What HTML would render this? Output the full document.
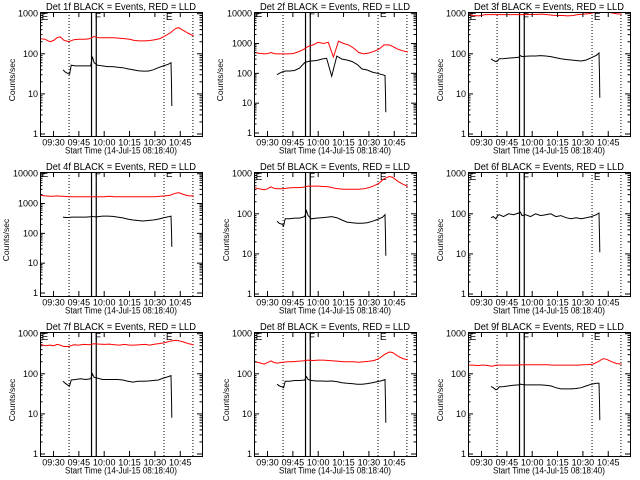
<!DOCTYPE html>
<html><head><meta charset="utf-8"><style>
html,body{margin:0;padding:0;background:#fff;}
svg{display:block;font-family:"Liberation Sans",sans-serif;}
</style></head><body>
<svg id="chart" width="640" height="480" viewBox="0 0 640 480" xmlns="http://www.w3.org/2000/svg">
<rect width="640" height="480" fill="#fff"/>
</svg>
<script>
// ---- data ----
const detNames = ["1f","2f","3f","4f","5f","6f","7f","8f","9f"];
const decades = [3,4,3,4,3,3,3,3,3];
const redT = [-8,-5,-2,0,2,4,6,9,12,15,18,21,24,27,30,33,36,39,42,45,48,51,54,57,60,63,66,69,72,74,77,80,83];
const blackT = [5.6,7,8.5,9.5,10.5,13,16,19,22,23,24,26,29,32,35,38,41,44,47,50,53,56,59,62,65,68,69.5,69.8,70];
const red1 = [240,230,200,215,250,265,220,200,225,230,230,235,270,250,250,250,250,245,240,230,215,210,210,215,225,240,280,330,420,450,380,320,280];
const black1 = [40,35,32,31,52,50,50,50,50,85,60,52,50,48,48,46,45,42,40,38,37,37,40,45,50,55,60,18,5];
const red2 = [500,470,450,460,500,460,450,450,450,460,520,620,800,900,1100,1000,1100,350,1200,1000,900,700,500,450,480,550,650,900,900,800,650,570,520];
const black2 = [90,100,110,115,120,120,125,150,230,240,250,260,270,300,320,80,380,300,280,250,200,140,130,110,100,90,85,20,5];
const red3 = [950,900,880,900,950,950,950,950,950,950,950,950,950,950,960,960,980,950,920,900,900,880,900,950,980,1000,1050,1100,1150,1100,1050,1000,980];
const black3 = [75,68,64,66,75,76,78,80,82,90,85,87,88,88,90,88,85,80,75,72,70,68,66,70,80,92,105,30,8];
const red4 = [1900,1800,1750,1750,1800,1750,1750,1700,1700,1700,1700,1700,1700,1700,1700,1750,1700,1700,1700,1700,1700,1700,1700,1700,1700,1750,1800,1900,2200,2300,2000,1800,1800];
const black4 = [350,340,340,340,350,350,350,350,360,370,360,360,380,380,370,350,330,300,280,270,260,270,280,300,330,360,380,120,35];
const red5 = [450,420,400,420,470,430,420,420,440,450,450,460,490,490,490,480,470,440,420,410,410,410,410,420,450,500,580,750,850,820,650,550,480];
const black5 = [65,58,55,50,75,75,78,78,85,120,90,75,78,80,82,85,80,70,62,60,58,58,60,65,72,82,95,28,9];
const red6 = [];
const black6 = [80,85,75,90,95,85,100,95,105,110,90,95,85,100,90,95,100,85,90,80,75,80,75,80,85,95,105,30,11];
const red7 = [550,500,520,500,540,520,480,480,530,520,540,530,560,550,540,550,530,520,540,520,520,530,540,520,550,570,600,650,680,670,620,560,530];
const black7 = [65,58,52,50,70,72,75,72,75,100,82,78,72,72,72,72,70,65,62,65,65,66,68,70,78,85,90,25,8];
const red8 = [200,190,175,190,210,190,185,195,200,200,205,210,220,215,220,220,215,210,205,200,200,200,195,200,205,215,240,300,350,340,280,240,225];
const black8 = [55,50,47,45,65,65,68,68,70,85,72,68,66,66,65,66,64,60,58,57,55,55,57,60,64,68,72,20,6];
const red9 = [165,165,160,165,165,160,155,165,165,165,165,165,168,168,168,168,168,168,165,165,165,165,165,165,168,170,175,200,240,230,200,180,175];
const black9 = [48,45,40,42,47,48,50,52,53,55,54,53,53,53,53,52,50,45,42,42,42,43,45,50,55,58,58,20,7];
const reds = [red1,red2,red3,red4,red5,red6,red7,red8,red9];
const blacks = [black1,black2,black3,black4,black5,black6,black7,black8,black9];
const xTickMin = [0,15,30,45,60,75];
const xTickLabels = ["09:30","09:45","10:00","10:15","10:30","10:45"];
const dottedT = [9.2,65.4,82.5];
const solidT = [22.5,25.3];
const markerT = [-7,24.5,66.5];
const markerLabels = ["E","F","E"];

// ---- drawing ----
const NS="http://www.w3.org/2000/svg";
const svg=document.getElementById('chart');
function mk(tag,attrs,parent){const e=document.createElementNS(NS,tag);for(const k in attrs)e.setAttribute(k,attrs[k]);(parent||svg).appendChild(e);return e;}
const lefts=[40,254,468], tops=[12,172,332], W=162, H=124;

for(let p=0;p<9;p++){
  const L=lefts[p%3], T=tops[Math.floor(p/3)];
  const g=mk('g',{});
  
  
  const dec=decades[p];
  const step=(H-(dec===4?4.7:3.7))/dec; // px per decade
  const yTopVal=dec+(dec===4?1.7:1.7)/step; // log10 at top
  const yScale=v=>T+(yTopVal-Math.log10(v))*step;
  const xScale=t=>L+13.5+t*1.69;
  const cid='clip'+p;
  const cp=mk('clipPath',{id:cid},g);mk('rect',{x:L,y:T,width:W,height:H},cp);
  const plot=mk('g',{'clip-path':'url(#'+cid+')'},g);
  // verticals
  dottedT.forEach(t=>{const l=mk('line',{x1:xScale(t),x2:xScale(t),y1:T,y2:T+H,stroke:'#000','stroke-width':1,'stroke-dasharray':'1,2'},plot);
    
    });
  solidT.forEach(t=>{const l=mk('line',{x1:xScale(t),x2:xScale(t),y1:T,y2:T+H,stroke:'#000','stroke-width':1.2},plot);
    
    });
  markerT.forEach((t,i)=>{const tx=mk('text',{x:xScale(t),y:T+(dec===4?5:8),'font-size':10},plot);tx.textContent=markerLabels[i];
    
    });
  // series
  if(reds[p].length){
    const pts=reds[p].map((v,i)=>xScale(redT[i]).toFixed(1)+','+yScale(v).toFixed(1)).join(' ');
    const pl=mk('polyline',{points:pts,fill:'none',stroke:'#f00','stroke-width':1},plot);
    
    
  }
  const bpts=blacks[p].map((v,i)=>xScale(blackT[i]).toFixed(1)+','+yScale(v).toFixed(1)).join(' ');
  const bl=mk('polyline',{points:bpts,fill:'none',stroke:'#000','stroke-width':1},plot);
  
  
  // frame
  const fr=mk('rect',{x:L+0.5,y:T+0.5,width:W,height:H,fill:'none',stroke:'#000','stroke-width':1},g);
  
  
  // y ticks
  for(let d=0;d<=dec;d++){
    const v=Math.pow(10,d), y=yScale(v);
    mk('line',{x1:L,x2:L+5,y1:y,y2:y,stroke:'#000'},g);
    mk('line',{x1:L+W-5,x2:L+W,y1:y,y2:y,stroke:'#000'},g);
    const tl=mk('text',{x:L-2,y:y+3,'font-size':9,'text-anchor':'end'},g);tl.textContent=String(v);
    
    
    if(d<dec||true){for(let m=2;m<10;m++){const vm=v*m;const ym=yScale(vm);if(ym<T)break;
      mk('line',{x1:L,x2:L+2.5,y1:ym,y2:ym,stroke:'#000'},g);
      mk('line',{x1:L+W-2.5,x2:L+W,y1:ym,y2:ym,stroke:'#000'},g);}}
  }
  // x ticks
  xTickMin.forEach((t,i)=>{const x=xScale(t);
    mk('line',{x1:x,x2:x,y1:T+H,y2:T+H-5,stroke:'#000'},g);
    mk('line',{x1:x,x2:x,y1:T,y2:T+5,stroke:'#000'},g);
    const tl=mk('text',{x:x,y:T+H+9.5,'font-size':9,'text-anchor':'middle'},g);tl.textContent=xTickLabels[i];
    
    });
  // titles
  const tt=mk('text',{x:L+W/2,y:T-2,'font-size':10.5,'text-anchor':'middle',textLength:150,lengthAdjust:'spacingAndGlyphs'},g);
  tt.textContent='Det '+detNames[p]+' BLACK = Events, RED = LLD';
  
  
  const xt=mk('text',{x:L+W/2,y:T+H+17.5,'font-size':9.5,'text-anchor':'middle',textLength:112,lengthAdjust:'spacingAndGlyphs'},g);
  xt.textContent='Start Time (14-Jul-15 08:18:40)';
  
  
  const yx=L-(dec===4?31:25), yy=T+H/2+6;
  const yt=mk('text',{x:yx,y:yy,'font-size':8.5,'text-anchor':'middle',transform:'rotate(-90 '+yx+' '+yy+')'},g);
  yt.textContent='Counts/sec';
  
  
}
</script>
</body></html>
